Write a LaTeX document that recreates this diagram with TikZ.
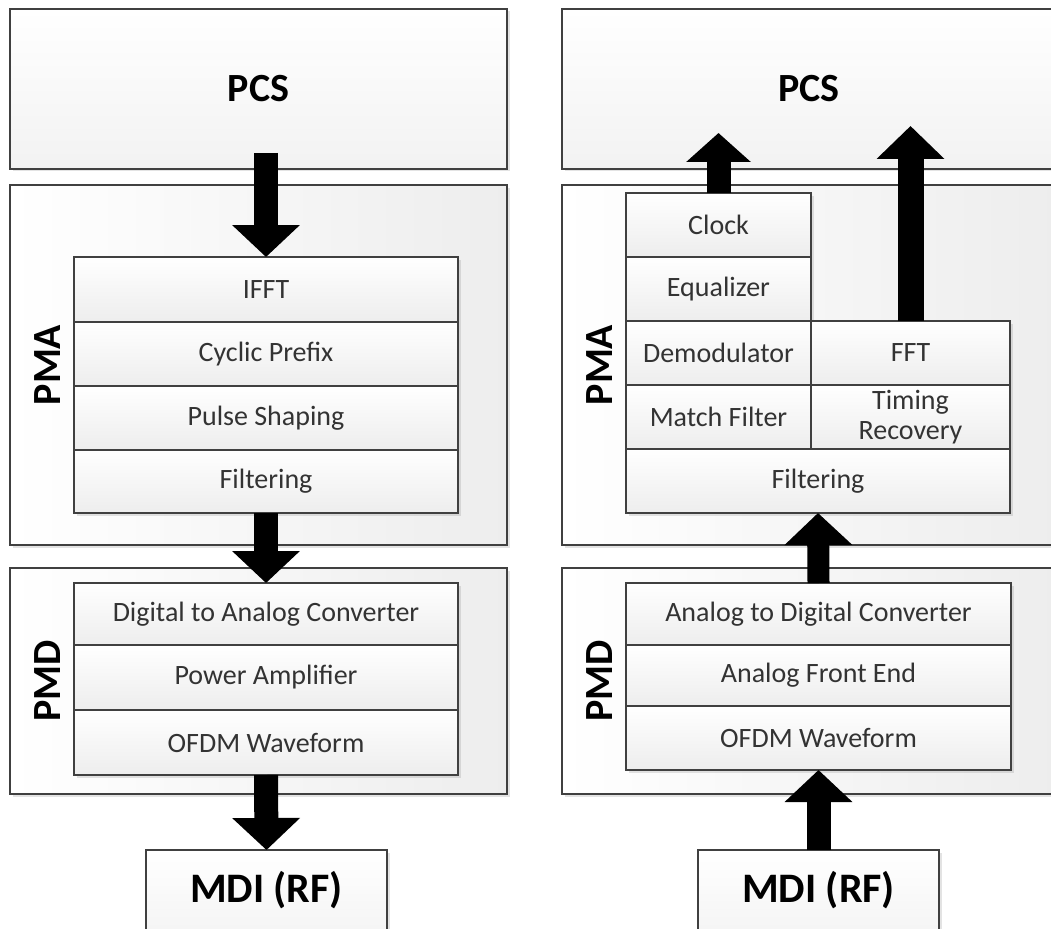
\documentclass[tikz,border=0pt]{standalone}
\usepackage{fontspec}
\setmainfont{Carlito}
\usetikzlibrary{arrows.meta,shadows,calc}
\definecolor{edge}{HTML}{404040}
\definecolor{txt}{HTML}{333333}
\tikzset{
  base/.style={draw=edge, line width=1.4pt, inner sep=0pt, outer sep=0pt, anchor=north west,
    drop shadow={shadow xshift=2.5pt, shadow yshift=-2.5pt, opacity=0.22}},
  layer/.style={base, top color=white, bottom color=black!5, text=black,
    font=\fontsize{40}{46}\selectfont\bfseries},
  group/.style={base, left color=white, right color=black!7},
  row/.style={base, top color=white, bottom color=black!7, text=txt, align=center,
    font=\fontsize{28}{31}\selectfont},
  sidelabel/.style={rotate=90, font=\fontsize{40}{46}\selectfont\bfseries, text=black},
  mdilabel/.style={font=\fontsize{42}{48}\selectfont\bfseries, text=black},
  blockarrow/.style={line width=24pt, draw=black,
    -{Triangle[length=32pt, width=66pt]}, shorten <=0pt}
}
\begin{document}
\begin{tikzpicture}[x=1pt,y=-1pt]
\useasboundingbox (0,0) rectangle (1051,928);
\clip (0,0) rectangle (1051,928);
\fill[white] (0,0) rectangle (1051,928);

% ---------------- LEFT ----------------
\node[layer, minimum width=497pt, minimum height=160pt] (pcsL) at (10,9) {PCS};
\node[group, minimum width=497pt, minimum height=360pt] (pmaL) at (10,185) {};
\node[sidelabel] (pmaLl) at ($(pmaL.west)+(38,0)$) {PMA};
\node[row, minimum width=384pt, minimum height=65pt] (ifft) at (74,257) {IFFT};
\node[row, minimum width=384pt, minimum height=64pt] (cp) at (74,322) {Cyclic Prefix};
\node[row, minimum width=384pt, minimum height=64pt] (ps) at (74,386) {Pulse Shaping};
\node[row, minimum width=384pt, minimum height=63pt] (filtL) at (74,450) {Filtering};

\node[group, minimum width=497pt, minimum height=226pt] (pmdL) at (10,568) {};
\node[sidelabel] (pmdLl) at ($(pmdL.west)+(38,0)$) {PMD};
\node[row, minimum width=384pt, minimum height=62pt] (dac) at (74,583) {Digital to Analog Converter};
\node[row, minimum width=384pt, minimum height=65pt] (pa) at (74,645) {Power Amplifier};
\node[row, minimum width=384pt, minimum height=65pt] (ofdmL) at (74,710) {OFDM Waveform};

\node[layer, minimum width=241pt, minimum height=100pt] (mdiL) at (146,850) {};
\node[mdilabel] (mdiLt) at ($(mdiL.north)+(0,40)$) {MDI (RF)};

\coordinate (startL) at ($(pcsL.south -| ifft.north)+(0,-16)$);
\draw[blockarrow] (startL) -- (ifft.north);
\draw[blockarrow] (filtL.south) -- (dac.north);
\draw[blockarrow] (ofdmL.south) -- (mdiL.north);

% ---------------- RIGHT ----------------
\node[layer, minimum width=494pt, minimum height=160pt] (pcsR) at (562,9) {PCS};
\node[group, minimum width=494pt, minimum height=360pt] (pmaR) at (562,185) {};
\node[sidelabel] (pmaRl) at ($(pmaR.west)+(38,0)$) {PMA};
\node[row, minimum width=185pt, minimum height=64pt] (clock) at (626,193) {Clock};
\node[row, minimum width=185pt, minimum height=64pt] (eq) at (626,257) {Equalizer};
\node[row, minimum width=185pt, minimum height=64pt] (demod) at (626,321) {Demodulator};
\node[row, minimum width=185pt, minimum height=64pt] (mf) at (626,385) {Match Filter};
\node[row, minimum width=199pt, minimum height=64pt] (fft) at (811,321) {FFT};
\node[row, minimum width=199pt, minimum height=64pt, font=\fontsize{28}{30}\selectfont] (tr) at (811,385) {Timing\\Recovery};
\node[row, minimum width=384pt, minimum height=64pt] (filtR) at (626,449) {Filtering};

\node[group, minimum width=494pt, minimum height=226pt] (pmdR) at (562,568) {};
\node[sidelabel] (pmdRl) at ($(pmdR.west)+(38,0)$) {PMD};
\node[row, minimum width=385pt, minimum height=62pt] (adc) at (626,583) {Analog to Digital Converter};
\node[row, minimum width=385pt, minimum height=61pt] (afe) at (626,645) {Analog Front End};
\node[row, minimum width=385pt, minimum height=64pt] (ofdmR) at (626,706) {OFDM Waveform};

\node[layer, minimum width=241pt, minimum height=100pt] (mdiR) at (698,850) {};
\node[mdilabel] (mdiRt) at ($(mdiR.north)+(0,40)$) {MDI (RF)};

\coordinate (clockTip) at ($(clock.north)+(0,-60)$);
\coordinate (fftTip) at ($(fft.north)+(0,-195)$);
\draw[blockarrow, -{Triangle[length=29pt, width=63pt]}] (clock.north) -- (clockTip);
\draw[blockarrow, line width=26pt, -{Triangle[length=33pt, width=66pt]}] (fft.north) -- (fftTip);
\draw[blockarrow, line width=22pt] (adc.north) -- (filtR.south);
\draw[blockarrow] (mdiR.north) -- (ofdmR.south);
\end{tikzpicture}
\end{document}
